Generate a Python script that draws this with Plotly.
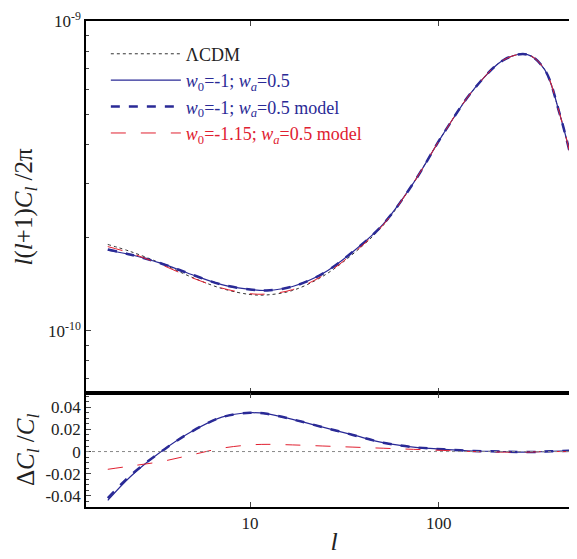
import plotly.graph_objects as go
from plotly.subplots import make_subplots

ell = [1.76, 2.34, 3.38, 4.90, 7.08, 10, 12.3, 16.8, 24.3, 35.1, 50.8, 73.5, 106, 154, 223, 296, 364, 438, 574]
cl_lcdm = [1.90, 1.80, 1.65, 1.49, 1.37, 1.31, 1.306, 1.35, 1.50, 1.77, 2.19, 3.0, 4.33, 6.03, 7.51, 7.79, 6.98, 5.02, 2.59]
cl_w = [1.82, 1.76, 1.65, 1.52, 1.41, 1.36, 1.35, 1.39, 1.53, 1.80, 2.21, 3.0, 4.33, 6.03, 7.51, 7.79, 6.98, 5.02, 2.59]
cl_w_model = [1.83, 1.76, 1.65, 1.52, 1.41, 1.36, 1.35, 1.39, 1.53, 1.80, 2.21, 3.0, 4.33, 6.03, 7.51, 7.79, 6.98, 5.02, 2.59]
cl_red = [1.87, 1.78, 1.635, 1.485, 1.374, 1.318, 1.315, 1.358, 1.507, 1.777, 2.197, 3.0, 4.33, 6.03, 7.51, 7.79, 6.98, 5.02, 2.59]
d_w = [-0.044, -0.022, 0.0, 0.018, 0.031, 0.035, 0.034, 0.029, 0.022, 0.015, 0.008, 0.004, 0.002, 0.0005, 0, -0.0005, 0, 0.0005, 0.001]
d_w_model = [-0.042, -0.021, 0.0, 0.018, 0.031, 0.035, 0.034, 0.029, 0.022, 0.015, 0.008, 0.004, 0.002, 0.0005, 0, -0.0005, 0, 0.0005, 0.001]
d_red = [-0.016, -0.013, -0.009, -0.003, 0.003, 0.006, 0.0065, 0.006, 0.005, 0.004, 0.003, 0.002, 0.001, 0.0, -0.0005, -0.0005, 0, 0, 0]

BLUE = "#2a2a96"
RED = "#e02030"
scale = 1e-10

fig = make_subplots(rows=2, cols=1, shared_xaxes=True, vertical_spacing=0,
                    row_heights=[0.765, 0.235])

def sc(v):
    return [a * scale for a in v]

fig.add_trace(go.Scatter(x=ell, y=sc(cl_lcdm), mode="lines", line_shape="spline",
                         name="ΛCDM", line=dict(color="#333", width=1, dash="dot")), 1, 1)
fig.add_trace(go.Scatter(x=ell, y=sc(cl_w), mode="lines", line_shape="spline",
                         name="<span style='color:%s'><i>w</i><sub>0</sub>=-1; <i>w<sub>a</sub></i>=0.5</span>" % BLUE,
                         line=dict(color=BLUE, width=1.2)), 1, 1)
fig.add_trace(go.Scatter(x=ell, y=sc(cl_w_model), mode="lines", line_shape="spline",
                         name="<span style='color:%s'><i>w</i><sub>0</sub>=-1; <i>w<sub>a</sub></i>=0.5 model</span>" % BLUE,
                         line=dict(color=BLUE, width=2.5, dash="dash")), 1, 1)
fig.add_trace(go.Scatter(x=ell, y=sc(cl_red), mode="lines", line_shape="spline",
                         name="<span style='color:%s'><i>w</i><sub>0</sub>=-1.15; <i>w<sub>a</sub></i>=0.5 model</span>" % RED,
                         line=dict(color=RED, width=1, dash="longdash")), 1, 1)

fig.add_trace(go.Scatter(x=ell, y=d_w, mode="lines", line_shape="spline", showlegend=False,
                         line=dict(color=BLUE, width=1.2)), 2, 1)
fig.add_trace(go.Scatter(x=ell, y=d_w_model, mode="lines", line_shape="spline", showlegend=False,
                         line=dict(color=BLUE, width=2.5, dash="dash")), 2, 1)
fig.add_trace(go.Scatter(x=ell, y=d_red, mode="lines", line_shape="spline", showlegend=False,
                         line=dict(color=RED, width=1, dash="longdash")), 2, 1)
fig.add_shape(type="line", xref="x2 domain", x0=0, x1=1, yref="y2", y0=0, y1=0,
              line=dict(color="#888", width=1, dash="dot"))

axis_common = dict(showline=True, linecolor="black", linewidth=1.5, mirror="ticks",
                   ticks="inside", showgrid=False, zeroline=False,
                   tickfont=dict(size=17, color="#222"))
fig.update_xaxes(type="log", range=[0.13, 2.76], dtick="D2", **axis_common)
fig.update_xaxes(tickvals=[10, 100], ticktext=["10", "100"], row=2, col=1,
                 title=dict(text="<i>l</i>", font=dict(size=26), standoff=0))
fig.update_xaxes(tickvals=[10, 100], ticktext=["", ""], row=1, col=1)
fig.update_yaxes(type="log", range=[-10.2, -9], tickvals=[1e-10, 1e-9],
                 ticktext=["10<sup>-10</sup>", "10<sup>-9</sup>"], minor=dict(ticks="inside", dtick="D1"),
                 title=dict(text="<i>l</i>(<i>l</i>+1)<i>C<sub>l</sub></i> /2π", font=dict(size=25), standoff=8),
                 row=1, col=1, **axis_common)
fig.update_yaxes(range=[-0.05, 0.053], tickvals=[-0.04, -0.02, 0, 0.02, 0.04],
                 ticktext=["-0.04", "-0.02", "0", "0.02", "0.04"],
                 minor=dict(ticks="inside", dtick=0.005),
                 title=dict(text="Δ<i>C<sub>l</sub></i> /<i>C<sub>l</sub></i>", font=dict(size=25), standoff=4),
                 row=2, col=1, **axis_common)

fig.update_layout(width=577, height=559, margin=dict(l=78, r=1, t=13, b=60),
                  paper_bgcolor="white", plot_bgcolor="white",
                  font=dict(family="Liberation Serif", color="#222"),
                  legend=dict(x=0.04, y=0.97, xanchor="left", yanchor="top", bgcolor="rgba(0,0,0,0)",
                              font=dict(size=18), itemwidth=70, tracegroupgap=0))
fig.write_html("out.html")
